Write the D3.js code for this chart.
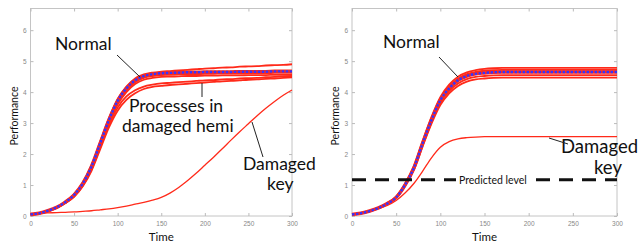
<!DOCTYPE html>
<html>
<head>
<meta charset="utf-8">
<script src="https://cdn.jsdelivr.net/npm/d3@7"></script>
<style>
  body { margin: 0; background: #fff; }
  svg { display: block; }
  .tick text { font-family: "Liberation Sans", Arial, sans-serif; }
</style>
</head>
<body>
<div id="chart"></div>
<script>
// time samples shared by every curve
var times = [0,10,20,30,40,50,60,70,80,90,100,110,120,130,140,150,160,170,180,190,200,210,220,230,240,250,260,270,280,290,300];

var xTicks = [0, 50, 100, 150, 200, 250, 300];
var yTicks = [0, 1, 2, 3, 4, 5, 6];

// left panel
var leftNormal = [0.05,0.09,0.17,0.28,0.45,0.68,1.05,1.6,2.35,3.1,3.72,4.12,4.38,4.52,4.58,4.61,4.62,4.63,4.64,4.64,4.65,4.65,4.65,4.65,4.66,4.66,4.66,4.66,4.67,4.67,4.67];
var leftRedHigh = [0.05,0.09,0.17,0.28,0.46,0.70,1.08,1.64,2.4,3.16,3.78,4.18,4.44,4.57,4.63,4.66,4.68,4.70,4.72,4.74,4.76,4.77,4.79,4.80,4.82,4.83,4.84,4.86,4.87,4.88,4.90];
var leftRedA = [0.05,0.09,0.16,0.27,0.44,0.66,1.02,1.56,2.3,3.05,3.66,4.06,4.32,4.46,4.52,4.55,4.56,4.57,4.58,4.58,4.59,4.59,4.60,4.60,4.60,4.61,4.61,4.61,4.62,4.62,4.62];
var leftRedB = [0.05,0.09,0.16,0.27,0.43,0.65,1.0,1.53,2.26,3.0,3.6,4.0,4.26,4.4,4.46,4.49,4.5,4.51,4.52,4.52,4.53,4.53,4.54,4.54,4.54,4.55,4.55,4.55,4.56,4.56,4.56];
var leftProcA = [0.05,0.08,0.15,0.26,0.42,0.62,0.96,1.46,2.16,2.86,3.4,3.75,3.96,4.1,4.17,4.2,4.23,4.25,4.27,4.29,4.31,4.33,4.35,4.36,4.38,4.40,4.41,4.43,4.44,4.46,4.48];
var leftProcB = [0.05,0.08,0.15,0.26,0.42,0.63,0.98,1.5,2.22,2.94,3.5,3.86,4.06,4.18,4.24,4.28,4.3,4.32,4.34,4.36,4.38,4.39,4.41,4.42,4.44,4.45,4.46,4.48,4.49,4.51,4.52];
var leftDamaged = [0.08,0.09,0.1,0.11,0.12,0.13,0.15,0.17,0.2,0.23,0.27,0.32,0.38,0.44,0.51,0.6,0.74,0.92,1.14,1.38,1.64,1.9,2.17,2.45,2.72,2.98,3.24,3.48,3.7,3.9,4.07];

// right panel
var rightNormal = [0.05,0.09,0.16,0.26,0.4,0.6,1.0,1.55,2.35,3.1,3.74,4.12,4.38,4.52,4.59,4.62,4.64,4.65,4.65,4.65,4.65,4.65,4.65,4.65,4.65,4.65,4.65,4.65,4.65,4.65,4.65];
var rightRedHigh = [0.05,0.09,0.16,0.27,0.42,0.63,1.04,1.6,2.42,3.2,3.84,4.24,4.5,4.64,4.71,4.75,4.77,4.78,4.78,4.78,4.78,4.78,4.78,4.78,4.78,4.78,4.78,4.78,4.78,4.78,4.78];
var rightRedMid = [0.05,0.09,0.16,0.26,0.41,0.61,1.02,1.57,2.38,3.14,3.79,4.18,4.44,4.58,4.65,4.69,4.71,4.72,4.72,4.72,4.72,4.72,4.72,4.72,4.72,4.72,4.72,4.72,4.72,4.72,4.72];
var rightRedLowA = [0.05,0.09,0.16,0.26,0.4,0.59,0.98,1.52,2.3,3.04,3.65,4.03,4.28,4.42,4.49,4.52,4.54,4.55,4.55,4.55,4.55,4.55,4.55,4.55,4.55,4.55,4.55,4.55,4.55,4.55,4.55];
var rightRedLowB = [0.05,0.08,0.15,0.25,0.39,0.58,0.96,1.48,2.25,2.98,3.58,3.96,4.2,4.34,4.41,4.44,4.46,4.47,4.47,4.47,4.47,4.47,4.47,4.47,4.47,4.47,4.47,4.47,4.47,4.47,4.47];
var rightDamaged = [0.05,0.09,0.15,0.24,0.34,0.5,0.74,1.05,1.45,1.88,2.22,2.4,2.49,2.53,2.55,2.56,2.56,2.56,2.56,2.56,2.56,2.56,2.56,2.56,2.56,2.56,2.56,2.56,2.56,2.56,2.56];
var predictedLevel = 1.17;

var width = 642, height = 248;
var red = "#ff2a1a", blue = "#3434ff";
var labelFont = "Lato, 'Open Sans', sans-serif";

var svg = d3.select("#chart").append("svg")
  .attr("width", width)
  .attr("height", height);

// draws one boxed panel and returns its scales
function drawPanel(left, right, reds, normal, damaged) {
  var xScale = d3.scaleLinear().domain([0, 300]).range([left, right]);
  var yScale = d3.scaleLinear().domain([0, 6.7]).range([216, 8.5]);

  var g = svg.append("g");

  // frame
  g.append("rect")
    .attr("x", xScale(0)).attr("y", yScale(6.7))
    .attr("width", xScale(300) - xScale(0))
    .attr("height", yScale(0) - yScale(6.7))
    .attr("fill", "none").attr("stroke", "#c4c4c4").attr("stroke-width", 1);

  // axes, matlab style ticks pointing in
  var axisStyle = function(sel) {
    sel.select(".domain").remove();
    sel.selectAll(".tick line").attr("stroke", "#bbb");
    sel.selectAll(".tick text").attr("fill", "#888").attr("font-size", 6.5);
  };
  g.append("g").attr("transform", "translate(0,216)")
    .call(d3.axisBottom(xScale).tickValues(xTicks).tickSize(-3).tickPadding(5).tickFormat(d3.format("d")))
    .call(axisStyle);
  g.append("g").attr("transform", "translate(0," + yScale(6.7) + ")")
    .call(d3.axisTop(xScale).tickValues(xTicks).tickSize(-3).tickFormat(""))
    .call(axisStyle);
  g.append("g").attr("transform", "translate(" + left + ",0)")
    .call(d3.axisLeft(yScale).tickValues(yTicks).tickSize(-3).tickPadding(4).tickFormat(d3.format("d")))
    .call(axisStyle);
  g.append("g").attr("transform", "translate(" + right + ",0)")
    .call(d3.axisRight(yScale).tickValues(yTicks).tickSize(-3).tickFormat(""))
    .call(axisStyle);

  // axis labels
  g.append("text")
    .attr("x", (left + right) / 2).attr("y", 241)
    .attr("text-anchor", "middle")
    .attr("font-family", labelFont).attr("font-size", 11.5)
    .attr("fill", "#111")
    .text("Time");
  g.append("text")
    .attr("transform", "translate(" + (left - 13) + ",116)rotate(-90)")
    .attr("text-anchor", "middle")
    .attr("font-family", labelFont).attr("font-size", 10.5)
    .attr("fill", "#111")
    .text("Performance");

  var line = d3.line()
    .x(function(d, i) { return xScale(times[i]); })
    .y(function(d) { return yScale(d); })
    .curve(d3.curveMonotoneX);

  reds.forEach(function(s) {
    g.append("path").datum(s).attr("d", line)
      .attr("fill", "none").attr("stroke", red).attr("stroke-width", 1.8);
  });
  g.append("path").datum(damaged).attr("d", line)
    .attr("fill", "none").attr("stroke", red).attr("stroke-width", 1.3);
  g.append("path").datum(normal).attr("d", line)
    .attr("fill", "none").attr("stroke", red).attr("stroke-width", 3.5);
  g.append("path").datum(normal).attr("d", line)
    .attr("fill", "none").attr("stroke", blue).attr("stroke-width", 2.4)
    .attr("stroke-dasharray", "2.5,1.5");

  return { x: xScale, y: yScale, g: g };
}

function note(g, x, y, str, size) {
  g.append("text")
    .attr("x", x).attr("y", y)
    .attr("font-family", labelFont).attr("font-size", size || 17.5)
    .attr("fill", "#111")
    .text(str);
}
function leader(g, x1, y1, x2, y2) {
  g.append("line")
    .attr("x1", x1).attr("y1", y1).attr("x2", x2).attr("y2", y2)
    .attr("stroke", "#222").attr("stroke-width", 1);
}

// left panel
var pl = drawPanel(30.5, 292, [leftRedHigh, leftRedA, leftRedB, leftProcA, leftProcB], leftNormal, leftDamaged);
note(pl.g, 55, 50, "Normal");
leader(pl.g, 117, 55, 140, 77);
note(pl.g, 129, 112, "Processes in");
note(pl.g, 122, 132, "damaged hemi");
leader(pl.g, 202, 83, 202, 97);
note(pl.g, 243, 170, "Damaged");
note(pl.g, 267, 190, "key");
leader(pl.g, 252, 122, 263, 157);

// right panel
var pr = drawPanel(352, 617, [rightRedHigh, rightRedMid, rightRedLowA, rightRedLowB], rightNormal, rightDamaged);
note(pr.g, 383, 48, "Normal");
leader(pr.g, 439, 57, 458, 77);
note(pr.g, 561, 153, "Damaged", 18.5);
note(pr.g, 594, 174, "key", 18.5);
leader(pr.g, 549, 138, 568, 144);

// predicted level dashed line
pr.g.append("line")
  .attr("x1", pr.x(0)).attr("x2", pr.x(300))
  .attr("y1", pr.y(predictedLevel)).attr("y2", pr.y(predictedLevel))
  .attr("stroke", "#111").attr("stroke-width", 3)
  .attr("stroke-dasharray", "14,9");
var bg = pr.g.append("rect").attr("fill", "#fff");
var pt = pr.g.append("text")
  .attr("x", 459).attr("y", pr.y(predictedLevel) + 4)
  .attr("font-family", labelFont).attr("font-size", 10.5)
  .attr("fill", "#111")
  .text("Predicted level");
var bb = pt.node().getBBox();
bg.attr("x", bb.x - 3).attr("y", bb.y)
  .attr("width", bb.width + 6).attr("height", bb.height);
</script>
</body>
</html>
